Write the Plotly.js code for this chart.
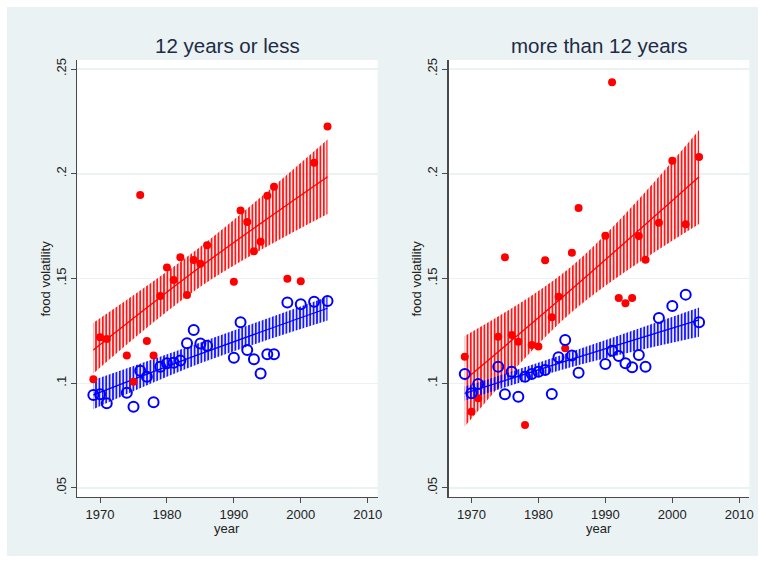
<!DOCTYPE html>
<html>
<head>
<meta charset="utf-8">
<script src="https://cdn.plot.ly/plotly-3.0.1.min.js"></script>
<style>
  html, body { margin: 0; padding: 0; background: #ffffff; }
  #chart { position: absolute; left: 7px; top: 7px; width: 751px; height: 549px; }
</style>
</head>
<body>
<div id="chart"></div>
<script>
// ---- data ----
const years = [1969,1970,1971,1974,1975,1976,1977,1978,1979,1980,1981,1982,1983,1984,1985,1986,1990,1991,1992,1993,1994,1995,1996,1998,2000,2002,2004];

const leftRed  = [.1019,.1219,.1211,.1133,.1007,.1899,.1202,.1132,.1416,.1553,.1493,.1601,.1421,.1588,.1570,.1659,.1485,.1824,.1770,.1630,.1676,.1895,.1938,.1499,.1487,.2053,.2225];
const leftBlue = [.0944,.0947,.0904,.0955,.0888,.1060,.1031,.0909,.1079,.1095,.1098,.1108,.1191,.1254,.1190,.1179,.1122,.1291,.1159,.1114,.1047,.1138,.1138,.1385,.1377,.1389,.1393];
const rightRed  = [.1127,.0864,.0928,.1222,.1601,.1230,.1198,.0801,.1183,.1175,.1587,.1315,.1413,.1167,.1623,.1837,.1704,.2437,.1407,.1382,.1407,.1703,.1590,.1766,.2062,.1759,.2080];
const rightBlue = [.1044,.0952,.0996,.1079,.0947,.1055,.0936,.1031,.1044,.1055,.1063,.0949,.1124,.1206,.1132,.1050,.1092,.1155,.1130,.1095,.1076,.1135,.1079,.1311,.1369,.1423,.1291];

// fitted lines and confidence bands, read at a few years
const fitYears = [1969, 1985, 2004];
const leftRedFit  = [.1159, .1556, .1986];
const leftRedLo   = [.1047, .1461, .1808];
const leftRedHi   = [.1289, .1652, .2164];
const leftBlueFit = [.0944, .1140, .1358];
const leftBlueLo  = [.0876, .1095, .1299];
const leftBlueHi  = [.1016, .1195, .1413];
const rightRedFit  = [.1016, .1450, .1986];
const rightRedLo   = [.0793, .1340, .1760];
const rightRedHi   = [.1226, .1560, .2209];
const rightBlueFit = [.0952, .1115, .1302];
const rightBlueLo  = [.0917, .1078, .1222];
const rightBlueHi  = [.0984, .1152, .1362];

const panelTitles = ["12 years or less", "more than 12 years"];
const xTicks = [1970, 1980, 1990, 2000, 2010];
const yTicks = [0.05, 0.10, 0.15, 0.20, 0.25];
const yTickText = [".05", ".1", ".15", ".2", ".25"];

// ---- styling ----
const RED = "#ff0000";
const BLUE = "#0000ff";

function band(xa, ya, lo, hi, color, bg) {
  return [
    {x: fitYears, y: lo, xaxis: xa, yaxis: ya, type: "scatter", mode: "lines",
     line: {width: 0, shape: "spline", color: color}, hoverinfo: "skip", showlegend: false},
    {x: fitYears, y: hi, xaxis: xa, yaxis: ya, type: "scatter", mode: "lines",
     line: {width: 0, shape: "spline", color: color}, fill: "tonexty",
     fillcolor: bg,
     fillpattern: {shape: "|", fgcolor: color, bgcolor: bg, size: 3.4, solidity: 0.45},
     hoverinfo: "skip", showlegend: false}
  ];
}
function fitLine(xa, ya, y, color) {
  return {x: fitYears, y: y, xaxis: xa, yaxis: ya, type: "scatter", mode: "lines",
          line: {width: 1.3, color: color, shape: "spline"}, showlegend: false};
}
function redPts(xa, ya, y) {
  return {x: years, y: y, xaxis: xa, yaxis: ya, type: "scatter", mode: "markers",
          marker: {symbol: "circle", size: 8, color: RED, line: {width: 0}}, showlegend: false};
}
function bluePts(xa, ya, y) {
  return {x: years, y: y, xaxis: xa, yaxis: ya, type: "scatter", mode: "markers",
          marker: {symbol: "circle-open", size: 10, color: BLUE, line: {width: 2, color: BLUE}}, showlegend: false};
}

const data = [].concat(
  band("x", "y", leftRedLo, leftRedHi, RED, "rgba(255,0,0,0.10)"),
  band("x", "y", leftBlueLo, leftBlueHi, BLUE, "rgba(0,0,255,0.10)"),
  [fitLine("x", "y", leftRedFit, RED), fitLine("x", "y", leftBlueFit, BLUE)],
  band("x2", "y2", rightRedLo, rightRedHi, RED, "rgba(255,0,0,0.10)"),
  band("x2", "y2", rightBlueLo, rightBlueHi, BLUE, "rgba(0,0,255,0.10)"),
  [fitLine("x2", "y2", rightRedFit, RED), fitLine("x2", "y2", rightBlueFit, BLUE)],
  [redPts("x", "y", leftRed), bluePts("x", "y", leftBlue),
   redPts("x2", "y2", rightRed), bluePts("x2", "y2", rightBlue)]
);

const W = 751, H = 549;
const yDom = [1 - 490 / H, 1 - 53 / H];
const leftDom = [70.3 / W, 370.7 / W];
const rightDom = [441.7 / W, 742.3 / W];

const tickFont = {family: "Liberation Sans, Arial, sans-serif", size: 13, color: "#222222"};

function xAxis(dom, anchor) {
  return {domain: dom, anchor: anchor, range: [1966.6, 2011.5], tickvals: xTicks,
          ticktext: xTicks.map(String), showgrid: false, zeroline: false,
          showline: true, linecolor: "#4a4a4a", linewidth: 1.3,
          ticks: "outside", ticklen: 5, tickcolor: "#4a4a4a", tickwidth: 1,
          tickfont: tickFont, fixedrange: true};
}
function yAxis(anchor) {
  return {domain: yDom, anchor: anchor, range: [0.0457, 0.2543], tickvals: yTicks,
          ticktext: yTickText, tickangle: -90, showgrid: true, gridcolor: "#eaf2f3",
          gridwidth: 1.5, zeroline: false, showline: true, linecolor: "#4a4a4a",
          linewidth: 1.3, ticks: "outside", ticklen: 5, tickcolor: "#4a4a4a",
          tickwidth: 1, tickfont: tickFont, fixedrange: true};
}

const titleFont = {family: "Liberation Sans, Arial, sans-serif", size: 20.5, color: "#1e2b45"};
const axTitleFont = {family: "Liberation Sans, Arial, sans-serif", size: 13, color: "#222222"};

const annotations = [
  {text: panelTitles[0], x: (leftDom[0] + leftDom[1]) / 2, y: 1 - 38 / H, xref: "paper", yref: "paper",
   showarrow: false, font: titleFont, xanchor: "center", yanchor: "middle"},
  {text: panelTitles[1], x: (rightDom[0] + rightDom[1]) / 2, y: 1 - 38 / H, xref: "paper", yref: "paper",
   showarrow: false, font: titleFont, xanchor: "center", yanchor: "middle"},
  {text: "year", x: (leftDom[0] + leftDom[1]) / 2, y: 1 - 521 / H, xref: "paper", yref: "paper",
   showarrow: false, font: axTitleFont, xanchor: "center", yanchor: "middle"},
  {text: "year", x: (rightDom[0] + rightDom[1]) / 2, y: 1 - 521 / H, xref: "paper", yref: "paper",
   showarrow: false, font: axTitleFont, xanchor: "center", yanchor: "middle"},
  {text: "food volatility", x: 38 / W, y: (yDom[0] + yDom[1]) / 2, xref: "paper", yref: "paper",
   showarrow: false, font: axTitleFont, textangle: -90, xanchor: "center", yanchor: "middle"},
  {text: "food volatility", x: 409 / W, y: (yDom[0] + yDom[1]) / 2, xref: "paper", yref: "paper",
   showarrow: false, font: axTitleFont, textangle: -90, xanchor: "center", yanchor: "middle"}
];

const layout = {
  width: W, height: H,
  margin: {l: 0, r: 0, t: 0, b: 0},
  paper_bgcolor: "#eaf2f3",
  plot_bgcolor: "#ffffff",
  showlegend: false,
  xaxis: xAxis(leftDom, "y"),
  yaxis: yAxis("x"),
  xaxis2: xAxis(rightDom, "y2"),
  yaxis2: yAxis("x2"),
  annotations: annotations,
  font: {family: "Liberation Sans, Arial, sans-serif"}
};

Plotly.newPlot("chart", data, layout, {displayModeBar: false, staticPlot: true});
</script>
</body>
</html>
